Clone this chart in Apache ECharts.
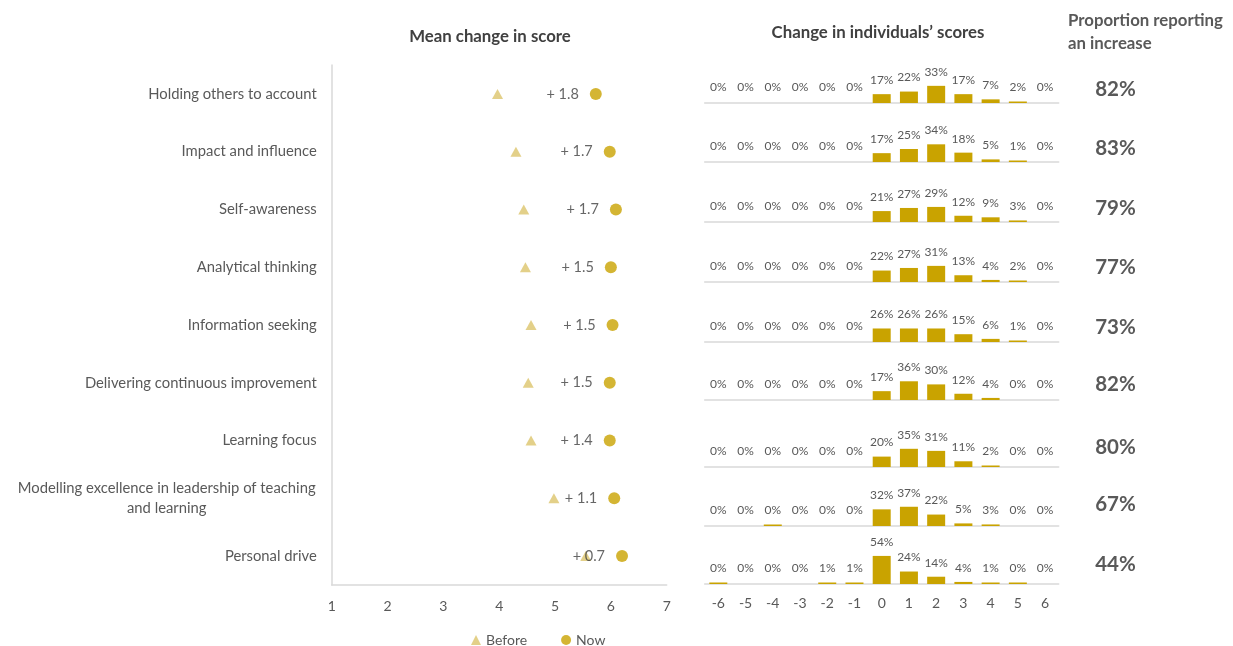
<!DOCTYPE html>
<html>
<head>
<meta charset="utf-8">
<script src="https://cdn.jsdelivr.net/npm/echarts@6/dist/echarts.min.js"></script>
<style>
html,body{margin:0;padding:0;background:#fff;}
#chart{width:1233px;height:646px;}
</style>
</head>
<body>
<div id="chart"></div>
<script>
// ---------- DATA ----------
const categories = [
  "Holding others to account",
  "Impact and influence",
  "Self-awareness",
  "Analytical thinking",
  "Information seeking",
  "Delivering continuous improvement",
  "Learning focus",
  "Modelling excellence in leadership of teaching\nand learning",
  "Personal drive"
];
const beforeScores = [3.97, 4.30, 4.44, 4.47, 4.57, 4.52, 4.57, 4.98, 5.55];
const nowScores    = [5.73, 5.98, 6.09, 6.00, 6.03, 5.98, 5.98, 6.06, 6.20];
const meanChange   = [1.8, 1.7, 1.7, 1.5, 1.5, 1.5, 1.4, 1.1, 0.7];
const meanTicks    = [1, 2, 3, 4, 5, 6, 7];

const scoreChanges = ["-6","-5","-4","-3","-2","-1","0","1","2","3","4","5","6"];
const dist1 = [0,0,0,0,0,0,17,22,33,17,7,2,0];
const dist2 = [0,0,0,0,0,0,17,25,34,18,5,1,0];
const dist3 = [0,0,0,0,0,0,21,27,29,12,9,3,0];
const dist4 = [0,0,0,0,0,0,22,27,31,13,4,2,0];
const dist5 = [0,0,0,0,0,0,26,26,26,15,6,1,0];
const dist6 = [0,0,0,0,0,0,17,36,30,12,4,0,0];
const dist7 = [0,0,0,0,0,0,20,35,31,11,2,0,0];
const dist8 = [0,0,0.4,0,0,0,32,37,22,5,3,0,0];
const dist9 = [0.4,0,0,0,1,1,54,24,14,4,1,0.4,0];
const distributions = [dist1, dist2, dist3, dist4, dist5, dist6, dist7, dist8, dist9];

const proportionIncrease = [82, 83, 79, 77, 73, 82, 80, 67, 44];

// ---------- LAYOUT / STYLE ----------
const FONT = 'Lato, "Open Sans", sans-serif';
const GOLD = '#C9A300';
const GOLD_LIGHT = '#DCC46C';
const TEXT = '#595959';
const AXIS = '#D9D9D9';
const CAT_FS = 14.8;
const rowBaselines = [103, 162, 222, 282, 342, 400, 467, 526, 584];
const propY = [89, 148, 208, 267, 327, 384, 447, 504, 564];
const barGridLeft = 704.7, barGridWidth = 354, barGridH = 52;

// measure first line of wrapped label to centre both lines
const cv = document.createElement('canvas').getContext('2d');
cv.font = CAT_FS + 'px ' + FONT;

const chart = echarts.init(document.getElementById('chart'));

const grids = [{left: 331.7, top: 65, width: 335, height: 520}];
const xAxes = [{
  type: 'value', gridIndex: 0, min: 1, max: 7, interval: 1,
  axisLine: {show: true, lineStyle: {color: AXIS, width: 1.5}},
  axisTick: {show: false}, splitLine: {show: false},
  axisLabel: {color: TEXT, fontSize: 14, fontFamily: FONT, margin: 14,
    formatter: v => meanTicks.includes(v) ? String(v) : ''}
}];
const yAxes = [{
  type: 'category', gridIndex: 0, data: categories, inverse: true,
  axisLine: {show: true, lineStyle: {color: AXIS, width: 1.5}},
  axisTick: {show: false},
  axisLabel: {
    color: TEXT, fontSize: CAT_FS, fontFamily: FONT, margin: 15,
    formatter: function (v) {
      if (v.indexOf('\n') >= 0) {
        return v.split('\n').map(p => '{c|' + p + '}').join('\n');
      }
      return v;
    },
    rich: {
      c: {width: 0, align: 'center', color: TEXT, fontSize: CAT_FS, fontFamily: FONT, lineHeight: 20}
    }
  }
}];
(function(){
  const long = categories.find(c => c.indexOf('\n') >= 0);
  const w = Math.ceil(cv.measureText(long.split('\n')[0]).width) + 2;
  yAxes[0].axisLabel.rich.c.width = w;
})();

const series = [
  {
    name: 'Before', type: 'scatter', xAxisIndex: 0, yAxisIndex: 0,
    symbol: 'triangle', symbolSize: [11, 10],
    itemStyle: {color: GOLD_LIGHT},
    data: beforeScores.map((v, i) => [v, categories[i]]),
    z: 3
  },
  {
    name: 'Now', type: 'scatter', xAxisIndex: 0, yAxisIndex: 0,
    symbol: 'circle', symbolSize: 12,
    itemStyle: {color: GOLD},
    data: nowScores.map((v, i) => [v, categories[i]]),
    label: {
      show: true, position: 'left', distance: 11,
      color: '#404040', fontSize: 14.5, fontFamily: FONT,
      formatter: p => '+ ' + meanChange[p.dataIndex].toFixed(1)
    },
    z: 4
  }
];

distributions.forEach((d, i) => {
  const gi = i + 1;
  grids.push({left: barGridLeft, width: barGridWidth, top: rowBaselines[i] - barGridH, height: barGridH});
  xAxes.push({
    type: 'category', gridIndex: gi, data: scoreChanges,
    axisLine: {show: true, lineStyle: {color: AXIS, width: 1.5}},
    axisTick: {show: false},
    axisLabel: {show: i === distributions.length - 1, color: TEXT, fontSize: 14, fontFamily: FONT, margin: 12, interval: 0}
  });
  yAxes.push({type: 'value', gridIndex: gi, min: 0, max: 100, show: false, splitLine: {show: false}});
  series.push({
    type: 'bar', xAxisIndex: gi, yAxisIndex: gi, barWidth: 18, barMinHeight: 1.5,
    data: d.map(v => v > 0 ? {value: v} : {value: 0, itemStyle: {color: 'rgba(0,0,0,0)'}}),
    itemStyle: {color: GOLD},
    label: {
      show: true, position: 'top', distance: 8,
      color: TEXT, fontSize: 12, fontFamily: FONT,
      formatter: p => Math.round(p.value) + '%'
    },
    silent: true
  });
});

const graphics = [
  {type: 'text', style: {x: 490, y: 37, text: 'Mean change in score', textAlign: 'center', textVerticalAlign: 'middle',
    font: 'bold 16.8px ' + FONT, fill: '#404040'}},
  {type: 'text', style: {x: 878, y: 33, text: 'Change in individuals\u2019 scores', textAlign: 'center', textVerticalAlign: 'middle',
    font: 'bold 16.8px ' + FONT, fill: '#404040'}},
  {type: 'text', style: {x: 1068, y: 9, text: 'Proportion reporting\nan increase', textAlign: 'left', textVerticalAlign: 'top',
    font: 'bold 16.8px ' + FONT, fill: '#595959', lineHeight: 23}}
];
proportionIncrease.forEach((p, i) => {
  graphics.push({type: 'text', style: {x: 1115.5, y: propY[i], text: p + '%', textAlign: 'center', textVerticalAlign: 'middle',
    font: 'bold 20.5px ' + FONT, fill: '#595959'}});
});

chart.setOption({
  animation: false,
  backgroundColor: '#fff',
  textStyle: {fontFamily: FONT},
  grid: grids,
  xAxis: xAxes,
  yAxis: yAxes,
  legend: {
    left: 466, top: 628, itemGap: 34, itemWidth: 10, itemHeight: 10,
    textStyle: {color: TEXT, fontSize: 14, fontFamily: FONT},
    data: [{name: 'Before', icon: 'triangle', itemStyle: {color: GOLD_LIGHT}}, {name: 'Now', icon: 'circle'}]
  },
  series: series,
  graphic: graphics
});
</script>
</body>
</html>
